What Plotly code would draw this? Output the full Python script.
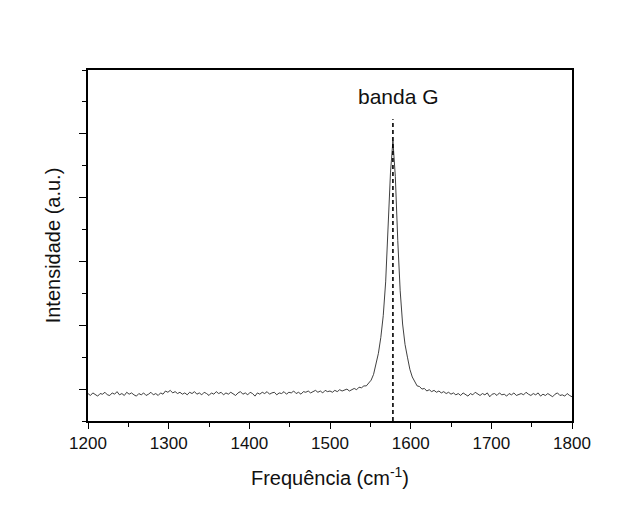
import plotly.graph_objects as go

# Raman shift grid (cm^-1), every 3 cm^-1
freq = list(range(1200, 1801, 3))

# Intensity values (a.u.)
intensity = [
    -0.07, -0.10, -0.06, -0.09, -0.11, -0.07, -0.08, -0.05, -0.09, -0.10,
    -0.06, -0.08, -0.04, -0.09, -0.07, -0.10, -0.05, -0.08, -0.06, -0.09,
    -0.11, -0.07, -0.09, -0.06, -0.10, -0.08, -0.05, -0.09, -0.07, -0.10,
    -0.06, -0.08, -0.03, -0.05, -0.02, -0.06, -0.04, -0.07, -0.05, -0.08,
    -0.06, -0.09, -0.05, -0.07, -0.04, -0.08, -0.06, -0.09, -0.05, -0.07,
    -0.10, -0.06, -0.08, -0.04, -0.07, -0.05, -0.09, -0.06, -0.08, -0.05,
    -0.07, -0.10, -0.06, -0.04, -0.08, -0.06, -0.09, -0.05, -0.07, -0.11,
    -0.06, -0.08, -0.05, -0.07, -0.04, -0.08, -0.06, -0.05, -0.09, -0.06,
    -0.07, -0.04, -0.08, -0.05, -0.06, -0.03, -0.07, -0.05, -0.08, -0.04,
    -0.05, -0.03, -0.06, -0.04, -0.02, -0.05, -0.03, -0.06, -0.02, -0.04,
    -0.03, -0.05, -0.02, -0.04, -0.01, -0.03, -0.02, 0.00, -0.03, -0.01,
    0.01, -0.01, 0.03, 0.02, 0.05, 0.05, 0.09, 0.14,
    0.23, 0.38, 0.56, 0.81, 1.15, 1.68, 2.47, 3.40, 3.89,
    3.33, 2.33, 1.54, 1.02, 0.70, 0.50, 0.31, 0.19, 0.11, 0.05, 0.04, 0.00,
    0.01, -0.03, -0.01, -0.04, -0.02, -0.05, -0.03, -0.06, -0.04, -0.07, -0.05,
    -0.08, -0.06, -0.09, -0.07, -0.10, -0.06, -0.08, -0.11, -0.07, -0.09,
    -0.05, -0.08, -0.10, -0.07, -0.09, -0.06, -0.12, -0.08, -0.07, -0.10,
    -0.06, -0.09, -0.08, -0.11, -0.07, -0.09, -0.06, -0.10, -0.08, -0.07,
    -0.09, -0.05, -0.08, -0.10, -0.07, -0.09, -0.06, -0.11, -0.08, -0.10,
    -0.07, -0.09, -0.12, -0.08, -0.06, -0.10, -0.09, -0.11, -0.07, -0.10,
    -0.12,
]

# G band marker
band_pos = [1578]
band_top = [4.23]
band_label = ["banda G"]
label_pos = [1585, 4.58]

x_ticks = [1200, 1300, 1400, 1500, 1600, 1700, 1800]
x_ticklabels = ["1200", "1300", "1400", "1500", "1600", "1700", "1800"]
y_ticks = [0, 1, 2, 3, 4]

n = min(len(freq), len(intensity))

fig = go.Figure()
fig.add_trace(go.Scatter(
    x=freq[:n], y=intensity[:n], mode="lines",
    line=dict(color="#2a2a2a", width=0.9),
    showlegend=False, hoverinfo="skip",
))

fig.add_shape(type="line", xref="x", yref="y",
              x0=band_pos[0], x1=band_pos[0], y0=-0.5, y1=band_top[0],
              line=dict(color="black", width=1.6, dash="4px,3px"))

fig.add_annotation(x=label_pos[0], y=label_pos[1], xref="x", yref="y",
                   text=band_label[0], showarrow=False,
                   font=dict(size=21, color="#111", family="Liberation Sans, Arial"),
                   xanchor="center", yanchor="middle")

fig.update_layout(
    width=626, height=521,
    margin=dict(l=80, r=62, t=62, b=108),
    paper_bgcolor="white", plot_bgcolor="white",
    font=dict(family="Liberation Sans, Arial", color="#111"),
    xaxis=dict(
        range=[1200, 1800], tickmode="array", tickvals=x_ticks, ticktext=x_ticklabels,
        ticks="outside", ticklen=6, tickwidth=1.3, tickcolor="black",
        minor=dict(dtick=50, ticks="outside", ticklen=4, tickwidth=1.2, tickcolor="black"),
        showline=True, linecolor="black", linewidth=1.6, mirror=True,
        showgrid=False, zeroline=False,
        tickfont=dict(size=17, color="#111"),
        title=dict(text="Frequência (cm<sup>-1</sup>)", font=dict(size=20, color="#111"), standoff=19),
    ),
    yaxis=dict(
        range=[-0.5, 5.0], tickmode="array", tickvals=y_ticks, showticklabels=False,
        ticks="outside", ticklen=7, tickwidth=1.3, tickcolor="black",
        minor=dict(dtick=0.5, tick0=0, ticks="outside", ticklen=4, tickwidth=1.2, tickcolor="black"),
        showline=True, linecolor="black", linewidth=1.6, mirror=True,
        showgrid=False, zeroline=False,
        title=dict(text="Intensidade (a.u.)", font=dict(size=20, color="#111"), standoff=13),
    ),
)

fig.write_html("out.html")
